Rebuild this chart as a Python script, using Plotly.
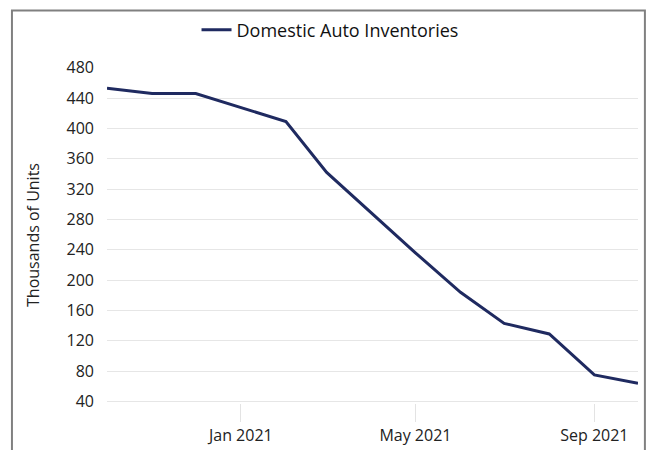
import plotly.graph_objects as go

dates = ["2020-10-01", "2020-11-01", "2020-12-01", "2021-01-01", "2021-02-01",
         "2021-03-01", "2021-04-01", "2021-05-01", "2021-06-01", "2021-07-01",
         "2021-08-01", "2021-09-01", "2021-10-01"]
inventories = [453, 446, 446, 428, 409, 342, 288, 236, 184, 143, 129, 75, 64]
series_name = "Domestic Auto Inventories"
y_title = "Thousands of Units"
y_ticks = [40, 80, 120, 160, 200, 240, 280, 320, 360, 400, 440, 480]
x_ticks = ["2021-01-01", "2021-05-01", "2021-09-01"]
x_ticklabels = ["Jan 2021", "May 2021", "Sep 2021"]

FONT = "Open Sans"
fig = go.Figure()
fig.add_trace(go.Scatter(
    x=dates, y=inventories, mode="lines", name=series_name,
    line=dict(color="#1f2a60", width=3),
))

fig.update_layout(
    width=651, height=450,
    margin=dict(l=107, r=13, t=67, b=47),
    paper_bgcolor="white", plot_bgcolor="white",
    font=dict(family=FONT, color="#222222", size=16),
    showlegend=True,
    legend=dict(orientation="h", x=0.42, xanchor="center", y=1.11, yanchor="middle",
                font=dict(family=FONT, size=18, color="#111111"),
                bgcolor="rgba(0,0,0,0)"),
    xaxis=dict(
        type="date", range=[dates[0], dates[-1]],
        tickvals=x_ticks, ticktext=x_ticklabels, automargin=False,
        showgrid=False, zeroline=False, showline=False,
        ticks="outside", ticklen=18, tickcolor="#e3e3e3", tickwidth=1,
        tickfont=dict(size=16, color="#222222"),
    ),
    yaxis=dict(
        range=[38, 481], tickvals=y_ticks, automargin=False,
        showgrid=True, gridcolor="#e6e6e6", gridwidth=1,
        zeroline=False, showline=False, ticks="",
        ticklabelstandoff=12,
        tickfont=dict(size=16, color="#222222"),
        title=dict(text=y_title, font=dict(size=16, color="#222222"), standoff=22),
    ),
    shapes=[dict(type="rect", xref="paper", yref="paper",
                 x0=-0.179, x1=1.013, y0=-0.3, y1=1.168,
                 line=dict(color="#808080", width=2), layer="below")],
)

fig.write_html("out.html")
